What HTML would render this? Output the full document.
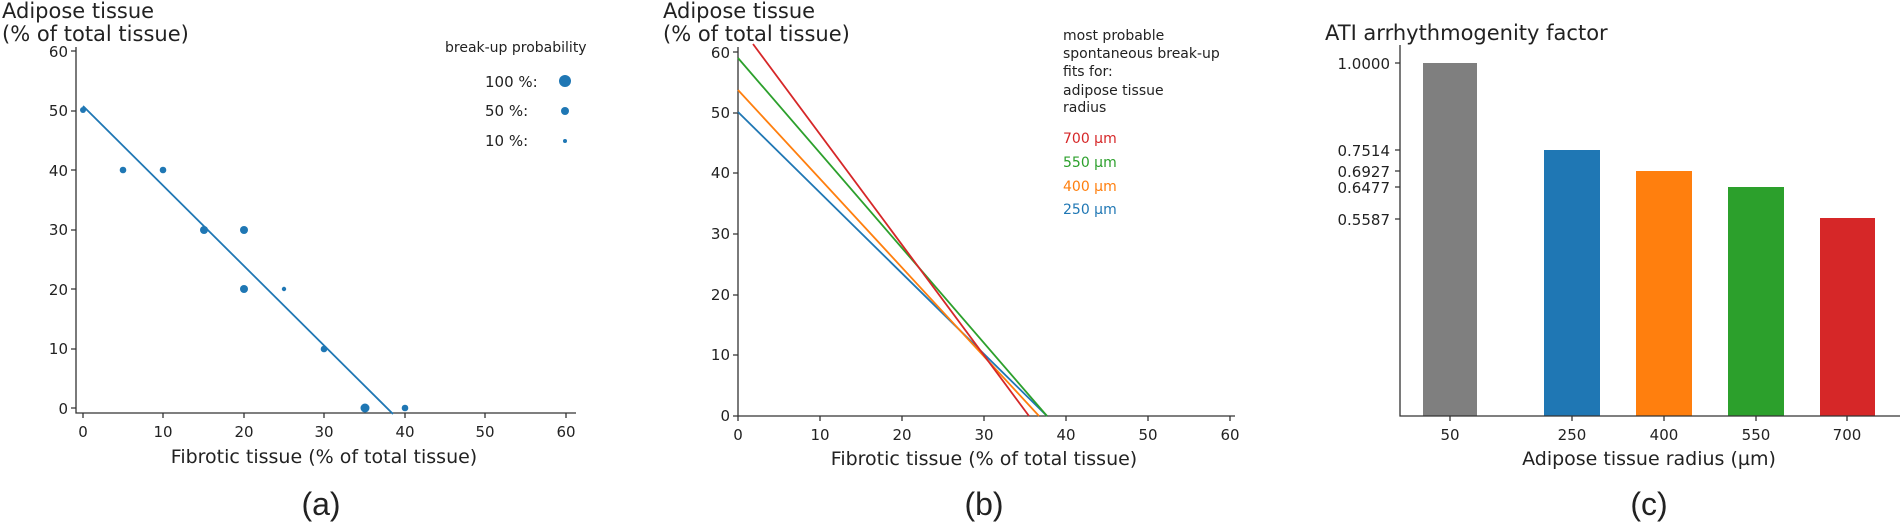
<!DOCTYPE html>
<html><head><meta charset="utf-8"><style>
body{margin:0;background:#fff;}
svg{display:block;font-family:"DejaVu Sans","Liberation Sans",sans-serif;}
</style></head><body>
<svg width="1900" height="525" viewBox="0 0 1900 525" xmlns="http://www.w3.org/2000/svg">
<g fill="#222">
<!-- ===== (a) ===== -->
<text x="2" y="18" font-size="21">Adipose tissue</text>
<text x="2" y="41" font-size="21">(% of total tissue)</text>
<g stroke="#333" stroke-width="1.3" fill="none">
<path d="M76 47 V413 H576"/>
<path d="M76 51 h-5 M76 111 h-5 M76 170 h-5 M76 230 h-5 M76 289 h-5 M76 349 h-5 M76 408 h-5"/>
<path d="M83 413 v5 M163 413 v5 M244 413 v5 M324 413 v5 M405 413 v5 M485 413 v5 M566 413 v5"/>
</g>
<g font-size="15" text-anchor="end">
<text x="68" y="57">60</text><text x="68" y="116">50</text><text x="68" y="176">40</text>
<text x="68" y="235">30</text><text x="68" y="295">20</text><text x="68" y="354">10</text><text x="68" y="414">0</text>
</g>
<g font-size="15" text-anchor="middle">
<text x="83" y="437">0</text><text x="163" y="437">10</text><text x="244" y="437">20</text>
<text x="324" y="437">30</text><text x="405" y="437">40</text><text x="485" y="437">50</text><text x="566" y="437">60</text>
</g>
<text x="324" y="463" font-size="19" text-anchor="middle">Fibrotic tissue (% of total tissue)</text>
<text x="321" y="515" font-size="32" text-anchor="middle" font-family="Liberation Sans, sans-serif">(a)</text>
<line x1="83" y1="106" x2="393" y2="414" stroke="#1f77b4" stroke-width="1.8"/>
<g fill="#1f77b4">
<circle cx="83" cy="110" r="3"/><circle cx="123" cy="170" r="3.3"/><circle cx="163" cy="170" r="3.3"/>
<circle cx="204" cy="230" r="4"/><circle cx="244" cy="230" r="4"/><circle cx="244" cy="289" r="4"/>
<circle cx="284" cy="289" r="2.2"/><circle cx="324" cy="349" r="3.3"/><circle cx="365" cy="408" r="4.5"/>
<circle cx="405" cy="408" r="3.3"/>
<circle cx="565" cy="81" r="6"/><circle cx="565" cy="111" r="4"/><circle cx="565" cy="141" r="2"/>
</g>
<text x="445" y="52" font-size="14">break-up probability</text>
<text x="485" y="87" font-size="15">100 %:</text>
<text x="485" y="116" font-size="15">50 %:</text>
<text x="485" y="146" font-size="15">10 %:</text>

<!-- ===== (b) ===== -->
<text x="663" y="18" font-size="21">Adipose tissue</text>
<text x="663" y="41" font-size="21">(% of total tissue)</text>
<g stroke="#333" stroke-width="1.3" fill="none">
<path d="M738 47 V416 H1235"/>
<path d="M738 52 h-5 M738 113 h-5 M738 173 h-5 M738 234 h-5 M738 295 h-5 M738 355 h-5 M738 416 h-5"/>
<path d="M738 416 v5 M820 416 v5 M902 416 v5 M984 416 v5 M1066 416 v5 M1148 416 v5 M1230 416 v5"/>
</g>
<g font-size="15" text-anchor="end">
<text x="730" y="58">60</text><text x="730" y="118">50</text><text x="730" y="178">40</text>
<text x="730" y="239">30</text><text x="730" y="300">20</text><text x="730" y="360">10</text><text x="730" y="421">0</text>
</g>
<g font-size="15" text-anchor="middle">
<text x="738" y="440">0</text><text x="820" y="440">10</text><text x="902" y="440">20</text>
<text x="984" y="440">30</text><text x="1066" y="440">40</text><text x="1148" y="440">50</text><text x="1230" y="440">60</text>
</g>
<text x="984" y="465" font-size="19" text-anchor="middle">Fibrotic tissue (% of total tissue)</text>
<text x="984" y="515" font-size="32" text-anchor="middle" font-family="Liberation Sans, sans-serif">(b)</text>
<g stroke-width="1.8" fill="none">
<line x1="738" y1="112" x2="1047" y2="416" stroke="#1f77b4"/>
<line x1="738" y1="90" x2="1039" y2="416" stroke="#ff7f0e"/>
<line x1="738" y1="58" x2="1047" y2="416" stroke="#2ca02c"/>
<line x1="753" y1="44" x2="1029" y2="416" stroke="#d62728"/>
</g>
<g font-size="14">
<text x="1063" y="40">most probable</text>
<text x="1063" y="58">spontaneous break-up</text>
<text x="1063" y="76">fits for:</text>
<text x="1063" y="95">adipose tissue</text>
<text x="1063" y="112">radius</text>
<text x="1063" y="143" fill="#d62728">700 µm</text>
<text x="1063" y="167" fill="#2ca02c">550 µm</text>
<text x="1063" y="191" fill="#ff7f0e">400 µm</text>
<text x="1063" y="214" fill="#1f77b4">250 µm</text>
</g>

<!-- ===== (c) ===== -->
<text x="1325" y="40" font-size="21">ATI arrhythmogenity factor</text>
<rect x="1423" y="63" width="54" height="353" fill="#7f7f7f"/>
<rect x="1544" y="150" width="56" height="266" fill="#1f77b4"/>
<rect x="1636" y="171" width="56" height="245" fill="#ff7f0e"/>
<rect x="1728" y="187" width="56" height="229" fill="#2ca02c"/>
<rect x="1820" y="218" width="55" height="198" fill="#d62728"/>
<g stroke="#333" stroke-width="1.3" fill="none">
<path d="M1400 45 V416 H1900"/>
<path d="M1400 63 h-5 M1400 150 h-5 M1400 171 h-5 M1400 187 h-5 M1400 219 h-5"/>
<path d="M1450 416 v5 M1572 416 v5 M1664 416 v5 M1756 416 v5 M1847 416 v5"/>
</g>
<g font-size="15" text-anchor="end">
<text x="1390" y="69">1.0000</text><text x="1390" y="156">0.7514</text><text x="1390" y="177">0.6927</text>
<text x="1390" y="193">0.6477</text><text x="1390" y="225">0.5587</text>
</g>
<g font-size="15" text-anchor="middle">
<text x="1450" y="440">50</text><text x="1572" y="440">250</text><text x="1664" y="440">400</text>
<text x="1756" y="440">550</text><text x="1847" y="440">700</text>
</g>
<text x="1649" y="465" font-size="19" text-anchor="middle">Adipose tissue radius (µm)</text>
<text x="1649" y="515" font-size="32" text-anchor="middle" font-family="Liberation Sans, sans-serif">(c)</text>
</g>
</svg>
</body></html>
